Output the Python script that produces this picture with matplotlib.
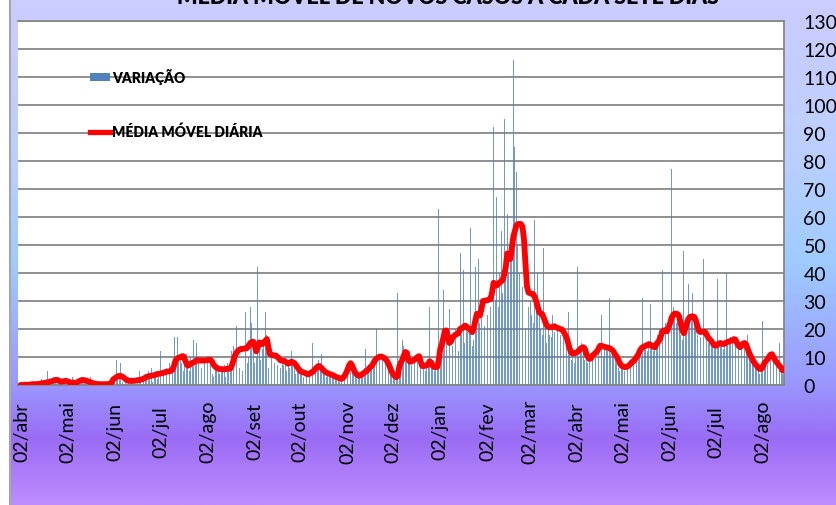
import numpy as np
import pandas as pd
import matplotlib
matplotlib.use("Agg")
import matplotlib.pyplot as plt
from matplotlib.colors import LinearSegmentedColormap
from matplotlib.patches import Patch
from matplotlib.lines import Line2D

plt.rcParams['font.family'] = ['Lato', 'DejaVu Sans']

# ---------------- data ----------------
month_starts = ['2020-04-01', '2020-05-01', '2020-06-01', '2020-07-01', '2020-08-01',
                '2020-09-01', '2020-10-01', '2020-11-01', '2020-12-01', '2021-01-01',
                '2021-02-01', '2021-03-01', '2021-04-01', '2021-05-01', '2021-06-01',
                '2021-07-01', '2021-08-01']

# daily new cases (VARIAÇÃO)
var_apr20 = [0,0,0,1,0,0,0,0,1,0, 0,1,0,0,2,1,0,0,5,1, 0,2,3,1,0,3,2,1,0,2]
var_may20 = [1,2,0,1,3,2,1,0,2,1, 3,2,1,2,0,1,3,1,0,1, 0,1,0,0,0,1,0,0,1,0,0]
var_jun20 = [1,2,9,3,2,8,1,0,2,1, 3,1,2,2,1,2,1,5,1,0, 3,4,2,5,3,6,1,3,5,2]
var_jul20 = [4,12,5,4,3,6,2,8,4,7, 17,6,17,9,10,8,5,7,11,6, 5,10,8,16,8,15,10,7,6,12, 9]
var_aug20 = [17,9,6,10,4,3,6,5,7,4, 6,5,7,3,8,6,5,12,14,19, 21,28,6,8,5,11,26,8,10,28, 22]
var_sep20 = [12,8,10,42,14,9,13,15,26,18, 6,9,10,21,8,11,7,9,6,8, 7,10,5,9,6,12,8,7,4,5]
var_oct20 = [6,4,5,3,4,5,3,4,6,15, 5,7,6,9,8,11,4,5,3,4, 5,3,4,2,3,2,3,1,2,14, 4]
var_nov20 = [12,6,9,7,5,4,3,2,4,3, 5,4,6,13,5,7,6,8,9,10, 20,11,9,12,10,8,9,7,6,5]
var_dec20 = [4,3,2,2,33,6,8,16,14,12, 10,9,8,7,9,10,17,11,9,8, 6,7,5,8,9,28,6,7,5,6, 8]
var_jan21 = [63,12,18,34,15,20,14,27,10,14, 17,20,16,12,47,18,41,15,22,19,
             20,56,14,16,42,20,45,22,24,55, 21]
var_feb21 = [44,25,30,28,35,92,30,67,28,40, 55,33,95,38,61,40,45,48,116,85,
             76,50,40,30,35,36,20,25]
var_mar21 = [28,30,25,22,59,30,40,27,20,18, 49,22,15,20,18,17,25,19,54,20,
             16,18,22,17,32,14,26,12,9,10, 8]
var_apr21 = [12,42,10,14,15,13,9,11,8,10, 12,9,13,11,32,14,12,25,10,13, 14,12,31,11,13,10,9,8,6,5]
var_may21 = [7,6,5,8,6,7,9,8,10,9, 11,12,13,10,31,14,13,12,15,29, 13,12,14,16,18,20,17,41,36,22, 37]
var_jun21 = [20,25,77,28,24,22,26,20,18,16, 48,19,22,36,25,24,33,22,20,18, 19,17,20,45,18,16,15,17,14,16]
var_jul21 = [15,13,38,14,16,15,13,14,40,16, 15,17,16,18,15,30,13,12,15,16, 14,13,18,11,10,8,9,7,6,5, 4]
var_aug21 = [6,23,8,9,7,12,10,16,11,8, 7,6,15,5,4]

# seven-day moving average (MÉDIA MÓVEL DIÁRIA)
ma_apr20 = [0,0,0,0.1,0.1,0.1,0.1,0.2,0.3,0.3, 0.3,0.3,0.4,0.4,0.6,0.7,0.7,0.9,1.0,1.1,
            1.3,1.4,1.6,1.8,1.8,1.6,1.3,1.2,1.3,1.4]
ma_may20 = [1.5,1.3,1.1,0.9,0.8,0.7,0.7,0.9,1.2,1.5, 1.7,1.8,1.7,1.6,1.4,1.2,1.0,0.8,0.6,0.4,
            0.4,0.3,0.3,0.3,0.3,0.3,0.3,0.3,0.3,0.5, 1.0]
ma_jun20 = [2.0,2.4,2.8,3.1,3.3,3.2,3.0,2.6,2.1,1.7, 1.5,1.5,1.4,1.5,1.5,1.6,1.7,1.8,1.9,2.0,
            2.3,2.6,2.9,3.1,3.2,3.3,3.4,3.5,3.7,3.9]
ma_jul20 = [4.0,4.1,4.2,4.4,4.6,4.7,4.8,4.9,5.1,5.5, 7.0,8.8,9.5,9.8,9.9,10.2,10.3,9.2,7.8,6.9,
            7.2,7.6,7.9,8.1,8.5,8.9,8.8,8.7,8.8,8.7, 8.7]
ma_aug20 = [8.8,8.9,9.0,9.0,8.3,7.2,6.6,6.1,5.8,5.7, 5.7,5.6,5.6,5.7,5.8,5.8,5.9,7.0,8.8,10.5,
            11.5,12.3,12.6,12.9,12.9,13.0,13.1,13.2,14.0,15.0, 15.3]
ma_sep20 = [15.5,14.0,12.0,13.5,15.2,15.0,14.6,15.2,15.8,16.4, 13.5,11.0,10.8,10.6,10.5,10.5,10.0,9.4,8.8,8.7,
            8.6,8.4,8.0,7.6,7.8,8.3,8.2,7.8,7.2,6.4]
ma_oct20 = [5.6,5.0,4.7,4.5,4.3,4.0,3.8,4.0,4.4,4.6, 5.2,5.9,6.4,6.8,6.5,6.0,5.4,4.8,4.5,4.2,
            4.0,3.8,3.6,3.3,3.0,2.8,2.6,2.3,2.2,2.5, 3.2]
ma_nov20 = [4.2,5.5,7.0,7.8,7.0,5.6,4.5,3.8,3.3,3.3, 3.6,4.0,4.4,4.8,5.2,5.8,6.4,6.9,7.8,8.8,
            9.4,9.8,10.1,10.2,10.0,9.7,9.3,8.5,7.5,6.2]
ma_dec20 = [4.8,3.8,3.2,2.8,3.2,6.5,8.0,9.0,10.5,11.8, 11.5,9.0,8.3,8.4,8.7,9.0,9.4,10.0,10.3,8.5,
            6.8,6.7,6.9,7.0,7.5,8.5,8.0,6.8,6.4,6.4, 6.5]
ma_jan21 = [9.0,13.0,14.5,17.0,19.4,19.5,17.0,15.0,15.5,17.0, 17.5,18.0,18.2,18.5,20.0,20.3,20.5,21.2,21.0,20.5,
            20.0,19.5,18.9,20.5,23.0,25.4,25.2,24.8,27.0,30.0, 30.1]
ma_feb21 = [30.2,30.3,30.5,30.7,33.0,36.5,36.0,35.5,36.0,36.7, 37.0,37.5,39.5,42.0,47.0,46.5,45.0,49.0,53.0,55.0,
            57.0,57.5,57.5,57.5,56.5,52.0,43.0,35.0]
ma_mar21 = [33.0,32.8,32.6,32.5,31.5,30.0,28.0,26.0,25.6,25.3, 24.0,22.5,21.2,20.8,20.6,20.6,20.8,21.0,20.6,20.4,
            20.2,20.0,19.8,19.0,18.0,17.0,15.0,13.0,11.7,11.2, 11.3]
ma_apr21 = [11.5,11.7,12.3,12.9,13.3,13.5,13.0,11.0,10.0,9.3, 9.5,10.5,11.0,11.5,12.0,13.0,14.0,14.0,13.8,13.6,
            13.5,13.3,13.2,12.9,12.5,11.8,10.8,10.2,9.0,7.8]
ma_may21 = [6.9,6.6,6.4,6.4,6.6,7.0,7.5,8.2,8.5,9.2, 10.0,10.8,12.0,13.0,13.5,13.8,14.0,14.3,14.6,14.4,
            14.0,13.6,13.5,14.5,15.3,16.0,17.5,19.0,19.5,19.6, 19.2]
ma_jun21 = [20.5,22.0,24.0,25.0,25.5,25.5,25.3,24.5,22.0,19.5, 18.5,20.0,22.0,23.5,24.3,24.5,24.5,24.3,23.0,21.0,
            19.2,18.9,19.0,19.0,19.0,18.0,17.0,16.4,15.8,15.0]
ma_jul21 = [14.2,14.0,14.3,14.8,15.0,14.8,14.6,14.8,15.2,15.4, 15.6,15.8,16.0,16.4,16.2,15.0,14.0,13.5,14.0,14.8,
            15.0,14.5,13.0,11.5,10.3,9.3,8.3,7.5,6.9,6.2, 5.7]
ma_aug21 = [5.8,6.5,7.8,8.5,9.2,10.0,10.8,11.0,10.0,9.0, 8.2,7.5,6.8,6.2,5.2]

tick_labels = ['02/abr', '02/mai', '02/jun', '02/jul', '02/ago', '02/set', '02/out', '02/nov',
               '02/dez', '02/jan', '02/fev', '02/mar', '02/abr', '02/mai', '02/jun', '02/jul', '02/ago']
y_ticks = list(range(0, 131, 10))

title = 'MÉDIA MÓVEL DE NOVOS CASOS A CADA SETE DIAS'
label_var = 'VARIAÇÃO'
label_ma = 'MÉDIA MÓVEL DIÁRIA'

var_months = [var_apr20, var_may20, var_jun20, var_jul20, var_aug20, var_sep20, var_oct20,
              var_nov20, var_dec20, var_jan21, var_feb21, var_mar21, var_apr21, var_may21,
              var_jun21, var_jul21, var_aug21]
ma_months = [ma_apr20, ma_may20, ma_jun20, ma_jul20, ma_aug20, ma_sep20, ma_oct20,
             ma_nov20, ma_dec20, ma_jan21, ma_feb21, ma_mar21, ma_apr21, ma_may21,
             ma_jun21, ma_jul21, ma_aug21]

var_dates, var_vals, ma_dates, ma_vals = [], [], [], []
for start, v, m in zip(month_starts, var_months, ma_months):
    var_dates.extend(pd.date_range(start, periods=len(v), freq='D'))
    var_vals.extend(v)
    ma_dates.extend(pd.date_range(start, periods=len(m), freq='D'))
    ma_vals.extend(m)
var_s = pd.Series(var_vals, index=pd.DatetimeIndex(var_dates))
ma_s = pd.Series(ma_vals, index=pd.DatetimeIndex(ma_dates))

tick_dates = pd.date_range('2020-04-01', '2021-08-01', freq='MS') + pd.Timedelta(days=1)

# ---------------- figure ----------------
W, H = 837, 506
fig = plt.figure(figsize=(W / 100, H / 100), dpi=100)
fig.patch.set_facecolor('white')

# chart-area gradient background
bg = fig.add_axes([10 / W, 0, 1 - 10 / W, 1])
bg.axis('off')
cmap = LinearSegmentedColormap.from_list('bg', [
    (0.00, '#ccccff'), (0.30, '#bcd0ff'), (0.52, '#9fcbff'),
    (0.76, '#9a98ff'), (0.87, '#9a6cf5'), (1.00, '#be8cff')])
grad = np.linspace(0, 1, 512).reshape(-1, 1)
bg.imshow(grad, aspect='auto', cmap=cmap, origin='upper', extent=[0, 1, 0, 1])
bg.set_xlim(0, 1)
bg.set_ylim(0, 1)
fig.add_artist(Line2D([9.5 / W, 9.5 / W], [0, 1], color='#a6a6a6', lw=1.5,
                      transform=fig.transFigure))

ax = fig.add_axes([18 / W, 1 - 386 / H, (784 - 18) / W, (386 - 22) / H])
ax.set_facecolor('white')

ax.bar(var_s.index, var_s.values, width=0.55, color='#4f81bd', alpha=0.8,
       linewidth=0, zorder=2)
ax.plot(ma_s.index, ma_s.values, color='#ff0000', lw=4.2, solid_joinstyle='round',
        solid_capstyle='round', zorder=3)

ax.set_ylim(0, 130)
x0 = pd.Timestamp('2020-04-02')
ax.set_xlim(x0 - pd.Timedelta(days=2.6), pd.Timestamp('2021-08-02') + pd.Timedelta(days=13.9))

ax.yaxis.tick_right()
ax.set_yticks(y_ticks)
ax.set_yticklabels([str(t) for t in y_ticks])
ax.tick_params(axis='y', length=0, pad=14, labelsize=14)
ax.set_xticks(tick_dates)
ax.set_xticklabels(tick_labels, rotation=90, fontsize=14)
for lab in ax.get_xticklabels():
    lab.set_verticalalignment('center')
ax.tick_params(axis='x', length=0, pad=33)

ax.yaxis.grid(True, color='#878787', lw=1.3)
ax.set_axisbelow(True)
for side in ['top', 'right', 'bottom']:
    ax.spines[side].set_color('#878787')
    ax.spines[side].set_linewidth(1.3)
ax.spines['left'].set_visible(False)

handles = [Patch(facecolor='#4f81bd', edgecolor='none'),
           Line2D([], [], color='#ff0000', lw=3.8)]
ax.legend(handles, [label_var, label_ma], loc='upper left',
          bbox_to_anchor=((90 - 18) / 766, (386 - 69) / 364), frameon=False,
          prop={'weight': 'heavy', 'size': 10}, handlelength=1.45, handleheight=0.5,
          handletextpad=0.15, labelspacing=2.85, borderpad=0, borderaxespad=0)

fig.text(448 / W, 1 - 4 / H, title, ha='center', va='baseline', fontsize=15.5,
         fontweight='heavy', color='black')

fig.savefig('out.png', dpi=100)
